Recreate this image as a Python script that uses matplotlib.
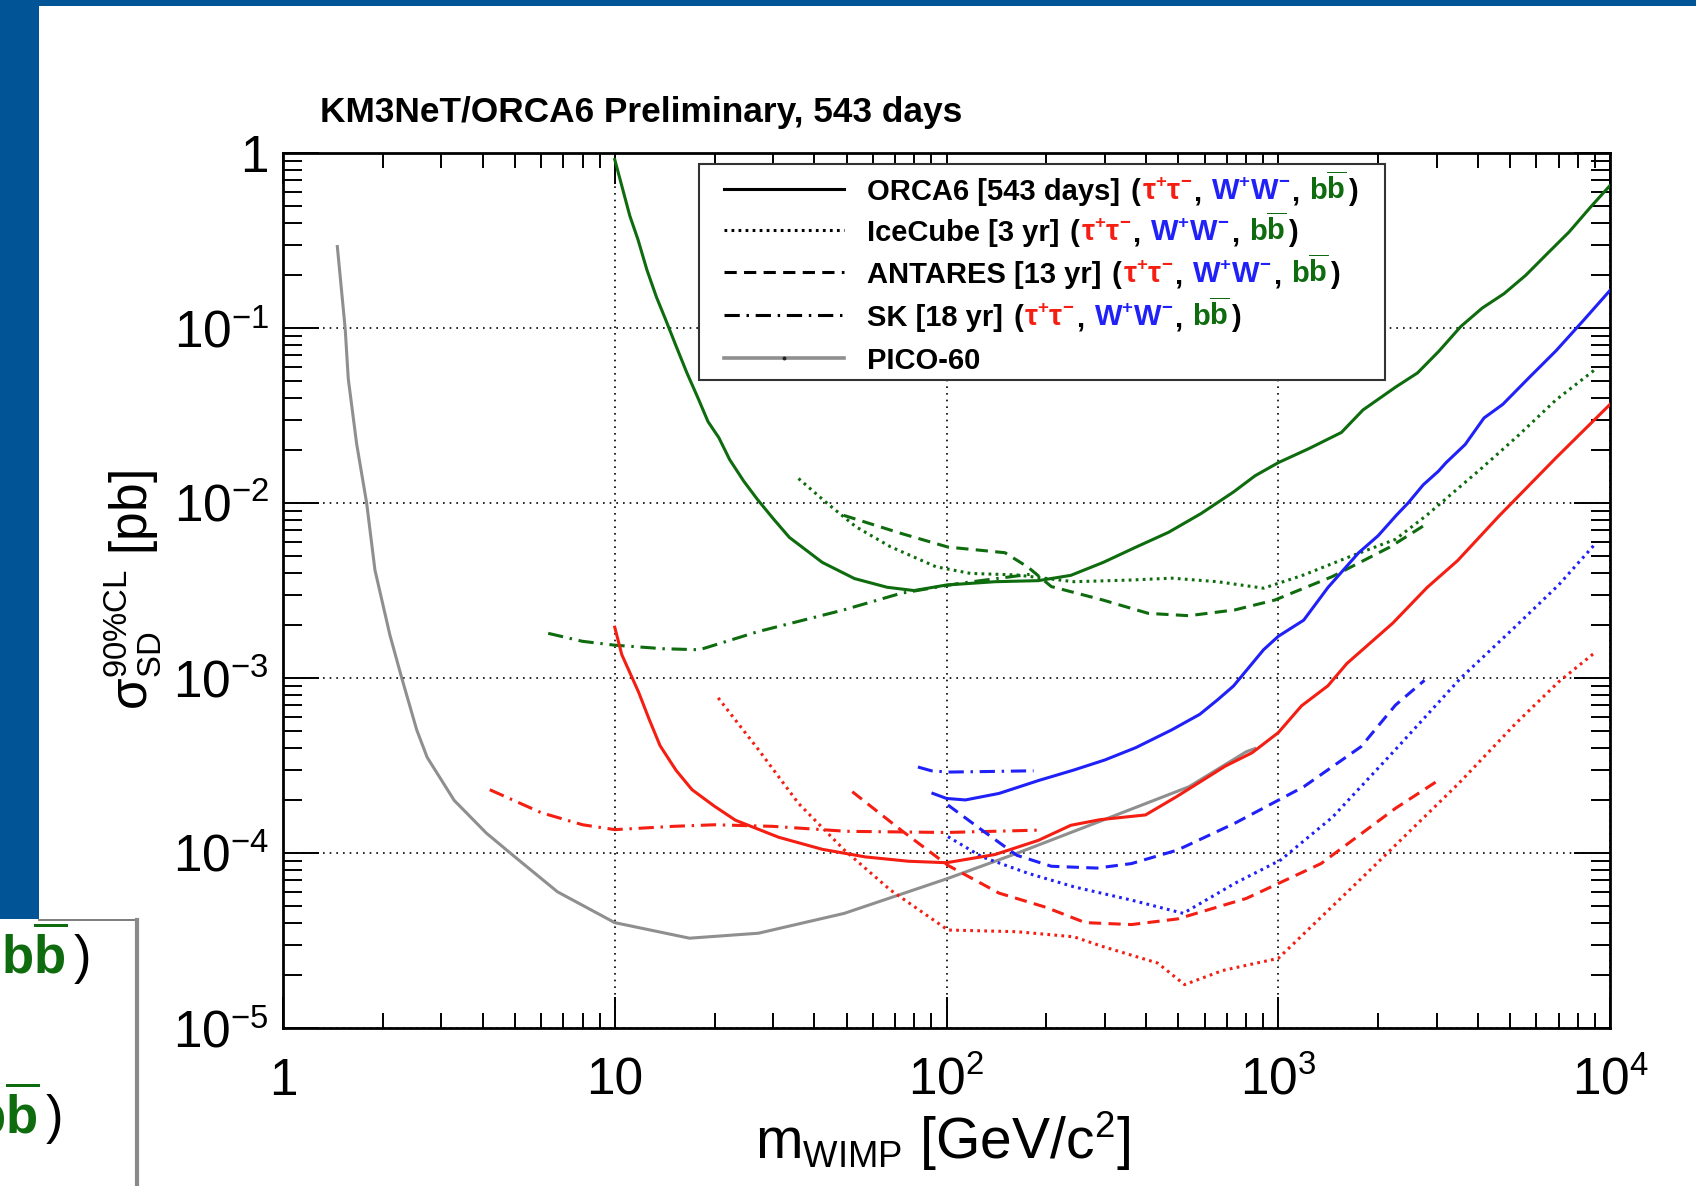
import matplotlib
matplotlib.use('Agg')
import matplotlib.pyplot as plt
import matplotlib._mathtext as _mt
from matplotlib.lines import Line2D
from matplotlib.patches import Rectangle
from matplotlib.offsetbox import HPacker, TextArea, DrawingArea, AnchoredOffsetbox
from matplotlib.ticker import FixedLocator, FixedFormatter, LogLocator, NullFormatter
import numpy as np

_mt.SHRINK_FACTOR = 0.64

plt.rcParams['font.family'] = ['Liberation Sans', 'DejaVu Sans']
plt.rcParams['mathtext.fontset'] = 'custom'
plt.rcParams['mathtext.rm'] = 'Liberation Sans'
plt.rcParams['mathtext.it'] = 'Liberation Sans:italic'
plt.rcParams['mathtext.bf'] = 'Liberation Sans:bold'
plt.rcParams['mathtext.sf'] = 'Liberation Sans'

# ---------------- data (m_WIMP in GeV/c^2, sigma in pb) ----------------
orca_bb_m = [10, 11.1, 11.75, 12.5, 13.36, 14.2, 15.3, 16.5, 17.8, 19.1, 20.6, 22.2, 24.5, 26.9, 30.1, 33.6,
             42.2, 52.8, 66.2, 79.8, 100, 140, 189, 237, 297, 372, 467, 585, 733, 851, 1000, 1240, 1550,
             1800, 2260, 2630, 3050, 3550, 4120, 4790, 5570, 6470, 7520, 8740, 10000]
orca_bb_s = [0.918, 0.438, 0.32, 0.215, 0.150, 0.113, 0.079, 0.0554, 0.040, 0.0292, 0.0236, 0.0177, 0.0133,
             0.0105, 0.0081, 0.00636, 0.00458, 0.0037, 0.0033, 0.00316, 0.0034, 0.00355, 0.0036, 0.00386,
             0.00458, 0.00559, 0.0068, 0.0087, 0.01156, 0.0143, 0.017, 0.0205, 0.0253, 0.034, 0.046, 0.0554,
             0.0737, 0.102, 0.130, 0.157, 0.200, 0.266, 0.353, 0.491, 0.652]

orca_tt_m = [10, 10.5, 11.8, 12.7, 13.7, 15.3, 17.1, 19.9, 23.1, 31.2, 42.2, 56.9, 76.9, 100, 140, 189, 237,
             290, 398, 492, 693, 834, 1000, 1175, 1412, 1610, 2215, 2810, 3470, 4630, 6870, 10000]
orca_tt_s = [1.95e-3, 1.36e-3, 8.3e-4, 5.8e-4, 4.1e-4, 2.97e-4, 2.3e-4, 1.86e-4, 1.54e-4, 1.23e-4, 1.05e-4,
             9.5e-5, 8.97e-5, 8.8e-5, 9.8e-5, 1.18e-4, 1.44e-4, 1.55e-4, 1.65e-4, 2.09e-4, 3.14e-4, 3.74e-4,
             4.87e-4, 6.93e-4, 9.03e-4, 1.21e-3, 2.06e-3, 3.29e-3, 4.68e-3, 8.43e-3, 0.0181, 0.0366]

orca_ww_m = [91, 100, 114, 144, 190, 242, 300, 372, 477, 580, 656, 733, 903, 1000, 1193, 1412, 1746, 2000,
             2275, 2463, 2735, 3040, 3205, 3660, 4170, 4750, 5700, 6870, 8300, 10000]
orca_ww_s = [2.19e-4, 2.05e-4, 2.01e-4, 2.19e-4, 2.6e-4, 2.98e-4, 3.4e-4, 4.0e-4, 5.05e-4, 6.2e-4, 7.5e-4,
             9.0e-4, 1.45e-3, 1.73e-3, 2.14e-3, 3.29e-3, 5.19e-3, 6.5e-3, 8.55e-3, 0.0100, 0.0127, 0.0152,
             0.0170, 0.0216, 0.0306, 0.0366, 0.052, 0.074, 0.11, 0.164]

icecube_tt_m = [20.5, 27.1, 35.8, 49.2, 67.7, 101, 163, 242, 296, 433, 522, 679, 1000, 1800, 3500, 5200, 7000, 9100]
icecube_tt_s = [7.7e-4, 3.9e-4, 1.92e-4, 1.04e-4, 6.15e-5, 3.63e-5, 3.55e-5, 3.32e-5, 2.92e-5, 2.35e-5,
                1.77e-5, 2.13e-5, 2.5e-5, 7.3e-5, 2.5e-4, 5.5e-4, 9.5e-4, 1.42e-3]

icecube_ww_m = [101, 128, 176, 242, 361, 517, 740, 1017, 1456, 2256, 3550, 5160, 7000, 8960]
icecube_ww_s = [1.24e-4, 9.5e-5, 7.66e-5, 6.41e-5, 5.38e-5, 4.52e-5, 6.71e-5, 9.12e-5, 1.6e-4, 3.9e-4,
                1.0e-3, 1.95e-3, 3.4e-3, 5.75e-3]

icecube_bb_m = [35.8, 43.7, 53.3, 67.7, 93, 118, 163, 242, 361, 477, 656, 903, 1193, 1640, 2256, 2800, 3550,
                4055, 5290, 6870, 9080]
icecube_bb_s = [0.0138, 0.00995, 0.00732, 0.00563, 0.00432, 0.00396, 0.00388, 0.00355, 0.00363, 0.00372,
                0.00355, 0.00326, 0.00388, 0.00493, 0.0062, 0.0085, 0.0125, 0.0155, 0.0243, 0.0388, 0.0585]

antares_tt_m = [52, 73, 101, 144, 199, 262, 361, 497, 801, 1346, 2256, 3000]
antares_tt_s = [2.24e-4, 1.35e-4, 8.5e-5, 5.9e-5, 4.9e-5, 4.0e-5, 3.9e-5, 4.2e-5, 5.5e-5, 8.7e-5, 1.8e-4, 2.56e-4]

antares_ww_m = [101, 128, 163, 207, 284, 361, 497, 740, 1193, 1776, 2256, 2760]
antares_ww_s = [1.88e-4, 1.35e-4, 9.7e-5, 8.4e-5, 8.2e-5, 8.7e-5, 1.04e-4, 1.48e-4, 2.39e-4, 4.05e-4, 7.0e-4, 9.7e-4]

antares_bb_m = [49, 73, 101, 150, 176, 207, 296, 406, 538, 740, 977, 1456, 2170, 2800]
antares_bb_s = [8.5e-3, 6.7e-3, 5.6e-3, 5.2e-3, 4.3e-3, 3.33e-3, 2.79e-3, 2.34e-3, 2.27e-3, 2.45e-3, 2.79e-3,
                3.8e-3, 5.6e-3, 7.6e-3]

sk_tt_m = [4.2, 6, 8, 10, 15, 20, 30, 50, 100, 187]
sk_tt_s = [2.3e-4, 1.7e-4, 1.45e-4, 1.36e-4, 1.42e-4, 1.45e-4, 1.42e-4, 1.33e-4, 1.31e-4, 1.35e-4]

sk_ww_m = [82, 90, 101, 130, 183]
sk_ww_s = [3.1e-4, 2.95e-4, 2.9e-4, 2.92e-4, 2.95e-4]

sk_bb_m = [6.3, 8, 10, 14, 18, 27, 49, 73, 109, 187]
sk_bb_s = [1.8e-3, 1.62e-3, 1.54e-3, 1.47e-3, 1.45e-3, 1.84e-3, 2.45e-3, 3.05e-3, 3.47e-3, 3.96e-3]

pico_m = [1.458, 1.54, 1.573, 1.667, 1.787, 1.893, 2.1, 2.28, 2.53, 2.72, 3.28, 4.1, 5.0, 6.72, 10, 16.8,
          27.1, 49.2, 101, 163, 296, 538, 801, 850]
pico_s = [0.292, 0.0987, 0.0513, 0.0218, 0.01, 0.00414, 0.00176, 0.001, 5.05e-4, 3.52e-4, 2.0e-4, 1.3e-4,
          9.5e-5, 6.0e-5, 4.0e-5, 3.26e-5, 3.48e-5, 4.52e-5, 7.16e-5, 9.96e-5, 1.54e-4, 2.39e-4, 3.79e-4, 3.95e-4]

x_ticks = [1, 10, 100, 1000, 10000]
x_ticklabels = ['1', '10', r'$\mathdefault{10^{2}}$', r'$\mathdefault{10^{3}}$', r'$\mathdefault{10^{4}}$']
y_ticks = [1e-5, 1e-4, 1e-3, 1e-2, 1e-1, 1]
y_ticklabels = [r'$\mathdefault{10^{-5}}$', r'$\mathdefault{10^{-4}}$', r'$\mathdefault{10^{-3}}$',
                r'$\mathdefault{10^{-2}}$', r'$\mathdefault{10^{-1}}$', '1']

legend_names = ['ORCA6 [543 days]', 'IceCube [3 yr]', 'ANTARES [13 yr]', 'SK [18 yr]', 'PICO-60']
channel_labels = [r'$\mathbf{\tau^{+}\tau^{-}}$', r'$\mathbf{W^{+}W^{-}}$', r'$\mathbf{b}\overline{\mathbf{b}}$']
title_text = 'KM3NeT/ORCA6 Preliminary, 543 days'

# ---------------- styles ----------------
RED = '#f41e12'
BLUE = '#2020f8'
GREEN = '#0e6b0e'
GRAY = '#8f8f8f'
SLIDE_BLUE = '#015597'
LW = 2.2
SOLID = '-'
DOT = (0, (0.9, 1.4))
DASH = (0, (4.0, 2.4))
DASHDOT = (0, (5.0, 2.2, 0.8, 2.2))

W, H = 1696, 1186
fig = plt.figure(figsize=(W / 100, H / 100), dpi=100)
fig.patch.set_facecolor('white')

# slide decoration
fig.add_artist(Rectangle((0, 1 - 6 / H), 1, 6 / H, transform=fig.transFigure, color=SLIDE_BLUE, lw=0))
fig.add_artist(Rectangle((0, 1 - 919 / H), 39 / W, 919 / H, transform=fig.transFigure, color=SLIDE_BLUE, lw=0))
fig.add_artist(Line2D([39 / W, 137 / W], [1 - 920 / H] * 2, transform=fig.transFigure, color='#666666', lw=1.2))
fig.add_artist(Line2D([137 / W] * 2, [1 - 920 / H, 0], transform=fig.transFigure, color='#8a8a8a', lw=3))
fig.text(1 / W, 1 - 973 / H, channel_labels[2], color=GREEN, fontsize=38, va='baseline')
fig.text(74 / W, 1 - 973 / H, ')', fontsize=38, va='baseline')
fig.text(-27 / W, 1 - 1133 / H, channel_labels[2], color=GREEN, fontsize=38, va='baseline')
fig.text(46 / W, 1 - 1133 / H, ')', fontsize=38, va='baseline')

fig.text(320 / W, 1 - 121.7 / H, title_text, fontsize=25.4, fontweight='bold', va='baseline', ha='left')

ax = fig.add_axes([283 / W, 1 - 1028 / H, 1327 / W, 875 / H])
ax.set_xscale('log')
ax.set_yscale('log')

curves = [
    (pico_m, pico_s, GRAY, SOLID),
    (sk_tt_m, sk_tt_s, RED, DASHDOT),
    (sk_ww_m, sk_ww_s, BLUE, DASHDOT),
    (sk_bb_m, sk_bb_s, GREEN, DASHDOT),
    (icecube_tt_m, icecube_tt_s, RED, DOT),
    (icecube_ww_m, icecube_ww_s, BLUE, DOT),
    (icecube_bb_m, icecube_bb_s, GREEN, DOT),
    (antares_tt_m, antares_tt_s, RED, DASH),
    (antares_ww_m, antares_ww_s, BLUE, DASH),
    (antares_bb_m, antares_bb_s, GREEN, DASH),
    (orca_tt_m, orca_tt_s, RED, SOLID),
    (orca_ww_m, orca_ww_s, BLUE, SOLID),
    (orca_bb_m, orca_bb_s, GREEN, SOLID),
]
for m, s, c, ls in curves:
    ax.plot(m, s, color=c, linestyle=ls, lw=LW, zorder=3, solid_joinstyle='round')

ax.set_xlim(1, 1e4)
ax.set_ylim(1e-5, 1)

ax.xaxis.set_major_locator(FixedLocator(x_ticks))
ax.xaxis.set_major_formatter(FixedFormatter(x_ticklabels))
ax.xaxis.set_minor_locator(LogLocator(base=10, subs=np.arange(2, 10), numticks=20))
ax.xaxis.set_minor_formatter(NullFormatter())
ax.yaxis.set_major_locator(FixedLocator(y_ticks))
ax.yaxis.set_major_formatter(FixedFormatter(y_ticklabels))
ax.yaxis.set_minor_locator(LogLocator(base=10, subs=np.arange(2, 10), numticks=20))
ax.yaxis.set_minor_formatter(NullFormatter())

ax.tick_params(axis='x', which='major', direction='in', length=22, width=1.4, top=True, bottom=True,
               pad=48, labelsize=37)
ax.tick_params(axis='x', which='minor', direction='in', length=11, width=1.4, top=True, bottom=True)
ax.tick_params(axis='y', which='major', direction='in', length=26, width=1.4, left=True, right=True,
               pad=10, labelsize=37)
ax.tick_params(axis='y', which='minor', direction='in', length=13.5, width=1.4, left=True, right=True)
for lab in ax.get_xticklabels():
    lab.set_verticalalignment('baseline')

ax.grid(True, which='major', color='black', linestyle=(0, (1, 3)), linewidth=1.2)
for sp in ax.spines.values():
    sp.set_linewidth(2.0)

ax.set_xlabel(r'$\mathrm{m_{WIMP}}$ [GeV/c$^{2}$]', fontsize=41)
ax.xaxis.set_label_coords(0.497, -0.094)
ax.set_ylabel(r'$\mathrm{\sigma}^{\mathrm{90\%CL}}_{\mathrm{SD}}$ [pb]', fontsize=37)
ax.yaxis.set_label_coords(-0.0904, 0.5)

# ---------------- legend ----------------
ax.add_patch(Rectangle((0.3135, 0.7406), 0.5170, 0.2469, transform=ax.transAxes, facecolor='white',
                       edgecolor='#333333', lw=1.5, zorder=5))
FS = 21
legend_styles = [SOLID, DOT, DASH, DASHDOT, SOLID]
legend_colors = ['black', 'black', 'black', 'black', GRAY]
legend_baselines = [200, 241, 283, 326, 369]


def T(s, c='black'):
    return TextArea(s, textprops=dict(color=c, fontsize=FS, fontweight='bold'))


def gap(pt):
    return DrawingArea(pt, 0)


for i, name in enumerate(legend_names):
    da = DrawingArea(86.4, 16, 0, 0)
    da.add_artist(Line2D([0, 86.4], [7.9, 7.9], color=legend_colors[i], lw=LW if i < 4 else 2.6,
                         linestyle=legend_styles[i]))
    if i == 4:
        da.add_artist(Line2D([43.2], [7.9], marker='o', ms=1.8, color='#222222', lw=0))
    children = [da, gap(16.9), T(name)]
    if i < 4:
        children += [gap(7.0), T('('), gap(1.2), T(channel_labels[0], RED), gap(0.8), T(','), gap(7.0),
                     T(channel_labels[1], BLUE), gap(0.8), T(','), gap(7.0), T(channel_labels[2], GREEN),
                     gap(1.2), T(')')]
    row = HPacker(children=children, align='baseline', pad=0, sep=0)
    ab = AnchoredOffsetbox(loc='lower left', child=row, pad=0, borderpad=0, frameon=False,
                           bbox_to_anchor=(724 / W, 1 - (legend_baselines[i] + 6.2) / H),
                           bbox_transform=fig.transFigure)
    ab.set_zorder(6)
    ax.add_artist(ab)

fig.savefig('out.png', dpi=100, facecolor='white')
